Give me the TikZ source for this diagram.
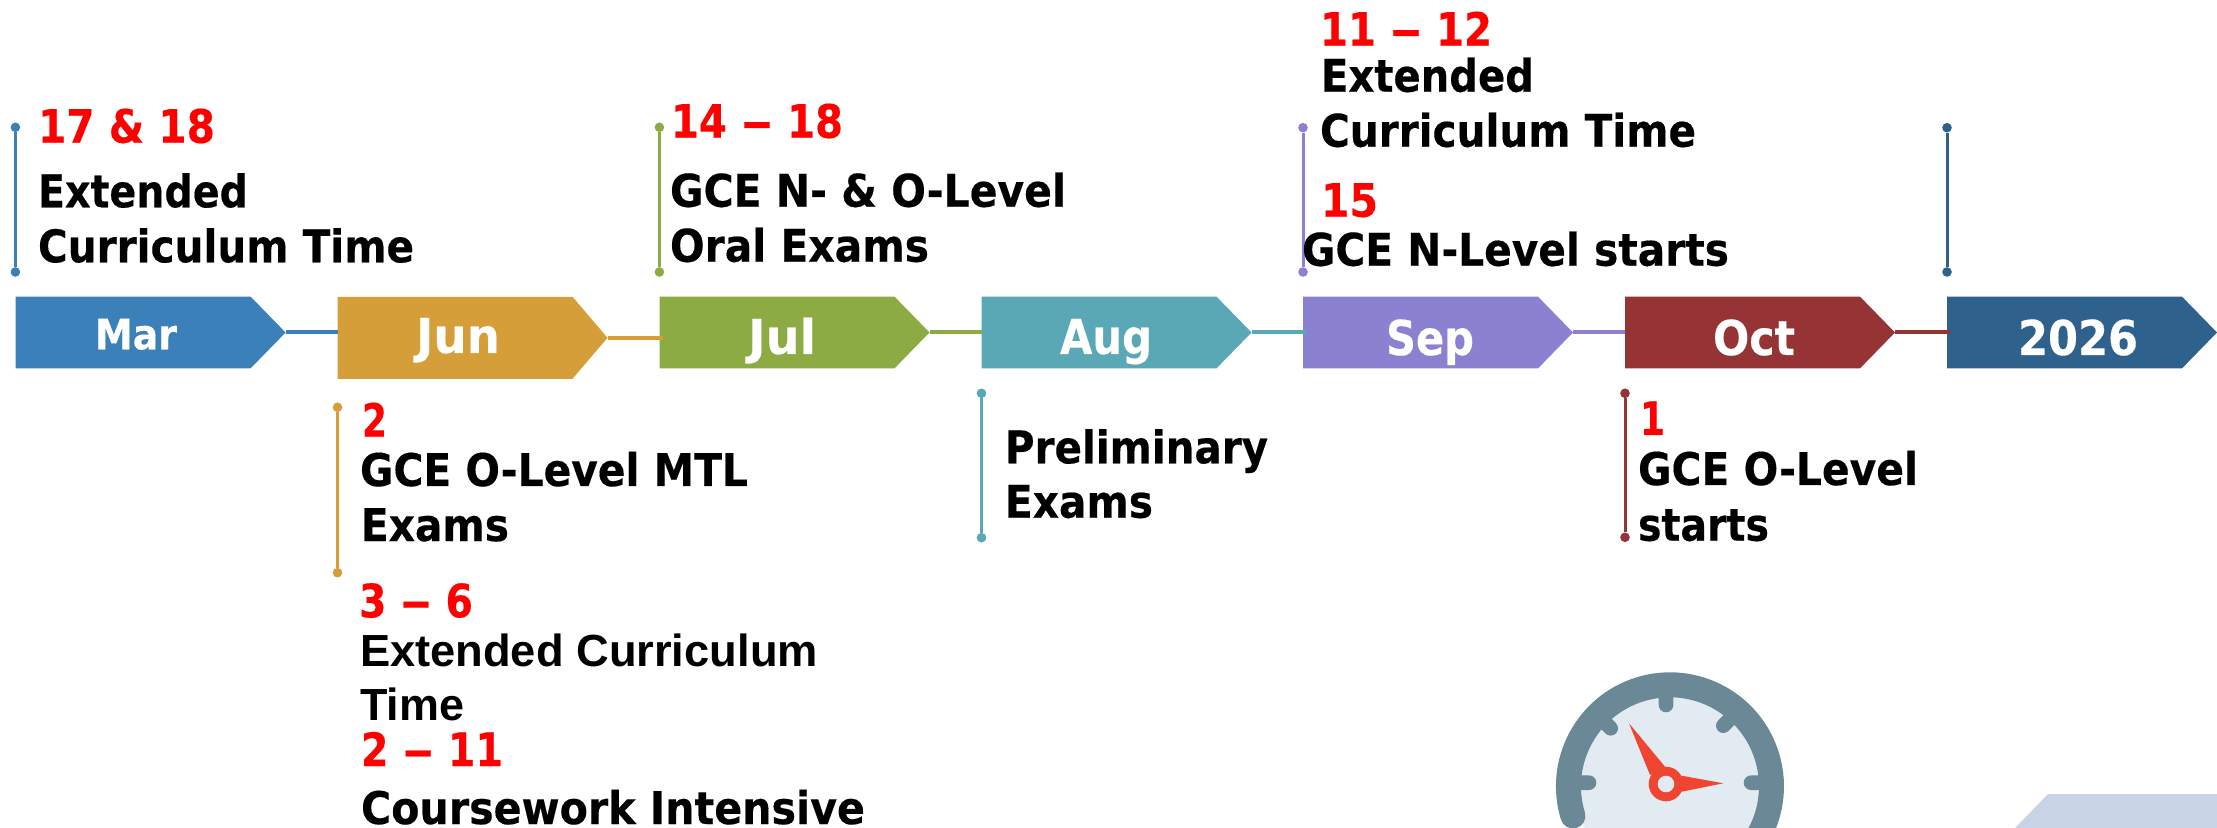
\documentclass[tikz,border=0pt]{standalone}
\usepackage{fontspec}
\usepackage{graphicx}
\usetikzlibrary{shapes.symbols}
\setmainfont{DejaVu Sans}[BoldFeatures={FakeBold=0.35}]
\newfontfamily\arialbold{Liberation Sans}
\definecolor{cmar}{HTML}{3C80BA}
\definecolor{cjun}{HTML}{D69E38}
\definecolor{cjul}{HTML}{8CAB42}
\definecolor{caug}{HTML}{5AA7B5}
\definecolor{csep}{HTML}{8A82D1}
\definecolor{coct}{HTML}{953335}
\definecolor{cyr}{HTML}{2E628C}
\definecolor{dialring}{HTML}{6A8896}
\definecolor{dialface}{HTML}{E2EBF1}
\definecolor{dialhand}{HTML}{F04530}
\definecolor{cornerblue}{HTML}{C7D4E6}
\newlength{\fitlen}
% #1 target width in px, #2 text
\newcommand{\fitw}[2]{\settowidth{\fitlen}{#2}\pgfmathsetmacro{\fitsx}{#1*0.5pt/\fitlen}\scalebox{\fitsx}[1]{#2}}
\newcommand{\ldash}{\scalebox{1.6}[1]{–}}
\tikzset{
  x=0.5pt,y=-0.5pt,
  month/.style={shape=signal,signal to=east,signal from=nowhere,fill=#1,draw=none,inner sep=0pt,outer sep=0pt,
    minimum width=135pt,anchor=west},
  hgt/.style={minimum height=#1*0.5pt},
  link/.style={draw=#1,line width=2pt},
  linkover/.style={draw=#1,line width=2pt,shorten >=-1.6pt},
  stem/.style={draw=#1,line width=1.5pt},
  dot/.style={circle,fill=#1,draw=none,inner sep=0pt,minimum size=4.8pt},
  txt/.style={inner sep=0pt,outer sep=0pt,anchor=base west,font=\fontsize{22.5pt}{27pt}\selectfont\bfseries,text=black},
  datetxt/.style={txt,font=\fontsize{23pt}{27pt}\selectfont\bfseries,text=red},
  mlabel/.style={inner sep=0pt,outer sep=0pt,anchor=base west,font=\fontsize{#1pt}{27pt}\selectfont\bfseries,text=white},
}
\begin{document}
\begin{tikzpicture}
\useasboundingbox (0,0) rectangle (2217,828);
% corner shape and dial
\begin{scope}
\clip (0,0) rectangle (2217,828);
\path[fill=cornerblue] (2048,794) -- (2217,794) -- (2217,850) -- (1998,850) -- (2015,828) -- cycle;
\path[fill=dialface] (1670,786.3) circle[radius=47.5pt];
\draw[dialring,line width=12.5pt,line cap=round] (1572.9,816) arc[start angle=197,end angle=-35,radius=50.75pt];
\draw[dialring,line width=7.3pt,line cap=round]
  (1666,690) -- (1666,705)
  (1570,782.7) -- (1589,782.7)
  (1770,782.7) -- (1751,782.7)
  (1595,712) -- (1610.7,728.3)
  (1740,709) -- (1723.3,725.7);
\path[fill=dialhand] (1629,723.3) -- (1665,766.7) -- (1650,775) -- cycle;
\path[fill=dialhand] (1723.3,783.3) -- (1681.7,791.7) -- (1681.7,775.7) -- cycle;
\path[fill=dialhand] (1666,784) circle[radius=8.65pt];
\path[fill=dialface] (1666,784) circle[radius=4.15pt];
\end{scope}
% month arrows
\node[month=cmar,hgt=71.6,signal pointer angle=91.4] (mar) at (15.6,332.5) {};
\node[month=cjun,hgt=82,signal pointer angle=99] (jun) at (337.5,337.8) {};
\node[month=cjul,hgt=71.6,signal pointer angle=91.4] (jul) at (659.5,332.5) {};
\node[month=caug,hgt=71.6,signal pointer angle=91.4] (aug) at (981.5,332.5) {};
\node[month=csep,hgt=71.6,signal pointer angle=91.4] (sep) at (1303,332.5) {};
\node[month=coct,hgt=71.6,signal pointer angle=91.4] (oct) at (1625,332.5) {};
\node[month=cyr,hgt=71.6,signal pointer angle=91.4] (yr) at (1947,332.5) {};
% connectors
\draw[link=cmar] (mar.east) -- (mar.east -| jun.west);
\draw[linkover=cjun] (jun.east) -- (jun.east -| jul.west);
\draw[link=cjul] (jul.east) -- (aug.west);
\draw[linkover=caug] (aug.east) -- (sep.west);
\draw[link=csep] (sep.east) -- (oct.west);
\draw[linkover=coct] (oct.east) -- (yr.west);
% stems
\node[dot=cmar] (s1a) at (15.4,127.3) {}; \node[dot=cmar] (s1b) at (15.4,272) {};
\draw[stem=cmar] (s1a) -- (s1b);
\node[dot=cjun] (s2a) at (337.5,407.3) {}; \node[dot=cjun] (s2b) at (337.5,572.7) {};
\draw[stem=cjun] (s2a) -- (s2b);
\node[dot=cjul] (s3a) at (659.4,127.3) {}; \node[dot=cjul] (s3b) at (659.4,272) {};
\draw[stem=cjul] (s3a) -- (s3b);
\node[dot=caug] (s4a) at (981.5,393.3) {}; \node[dot=caug] (s4b) at (981.5,537.7) {};
\draw[stem=caug] (s4a) -- (s4b);
\node[dot=csep] (s5a) at (1303,127.7) {}; \node[dot=csep] (s5b) at (1303,272) {};
\draw[stem=csep] (s5a) -- (s5b);
\node[dot=coct] (s6a) at (1625,393.3) {}; \node[dot=coct] (s6b) at (1625,537.3) {};
\draw[stem=coct] (s6a) -- (s6b);
\node[dot=cyr] (s7a) at (1947,127.7) {}; \node[dot=cyr] (s7b) at (1947,272) {};
\draw[stem=cyr] (s7a) -- (s7b);
% month labels
\node[mlabel=21] (lmar) at (95,349.3) {\fitw{82}{Mar}};
\node[mlabel=24] (ljun) at (416,353) {\fitw{84}{Jun}};
\node[mlabel=24] (ljul) at (748,354) {\fitw{68}{Jul}};
\node[mlabel=24] (laug) at (1060,354) {\fitw{92}{Aug}};
\node[mlabel=24] (lsep) at (1386,355) {\fitw{88}{Sep}};
\node[mlabel=24] (loct) at (1713,355) {\fitw{82}{Oct}};
\node[mlabel=24] (lyr) at (2018,355) {\fitw{120}{2026}};
% March
\node[datetxt] (d1) at (38,142.7) {\fitw{177}{17 \& 18}};
\node[txt] (t1a) at (38,207.3) {\fitw{210}{Extended}};
\node[txt] (t1b) at (38,262.3) {\fitw{376}{Curriculum Time}};
% June
\node[datetxt] (d2) at (362,436.7) {\fitw{25}{2}};
\node[txt] (t2a) at (360,486) {\fitw{388}{GCE O-Level MTL}};
\node[txt] (t2b) at (361,541) {\fitw{148}{Exams}};
\node[datetxt] (d3) at (359,617.3) {\fitw{114}{3 \ldash{} 6}};
\node[txt,font=\arialbold\fontsize{22.5pt}{27pt}\selectfont\bfseries] (t3a) at (360,666) {\fitw{458}{Extended Curriculum}};
\node[txt,font=\arialbold\fontsize{22.5pt}{27pt}\selectfont\bfseries] (t3b) at (360,720) {\fitw{104}{Time}};
\node[datetxt] (d4) at (361,766) {\fitw{142}{2 \ldash{} 11}};
\node[txt] (t4) at (361,824) {\fitw{504}{Coursework Intensive}};
% July
\node[datetxt] (d5) at (671,137.7) {\fitw{172}{14 \ldash{} 18}};
\node[txt] (t5a) at (670,206.7) {\fitw{396}{GCE N- \& O-Level}};
\node[txt] (t5b) at (670,261.7) {\fitw{259}{Oral Exams}};
% August
\node[txt] (t6a) at (1005,463.3) {\fitw{263}{Preliminary}};
\node[txt] (t6b) at (1005,517.7) {\fitw{148}{Exams}};
% September
\node[datetxt] (d7) at (1320,45.7) {\fitw{172}{11 \ldash{} 12}};
\node[txt] (t7a) at (1321,91.7) {\fitw{213}{Extended}};
\node[txt] (t7b) at (1320,146.7) {\fitw{376}{Curriculum Time}};
\node[datetxt] (d8) at (1321,216.7) {\fitw{57}{15}};
\node[txt] (t8) at (1302,265.7) {\fitw{427}{GCE N-Level starts}};
% October
\node[datetxt] (d9) at (1640,435) {\fitw{25}{1}};
\node[txt] (t9a) at (1638,485) {\fitw{280}{GCE O-Level}};
\node[txt] (t9b) at (1638,540.7) {\fitw{131}{starts}};
\end{tikzpicture}
\end{document}
